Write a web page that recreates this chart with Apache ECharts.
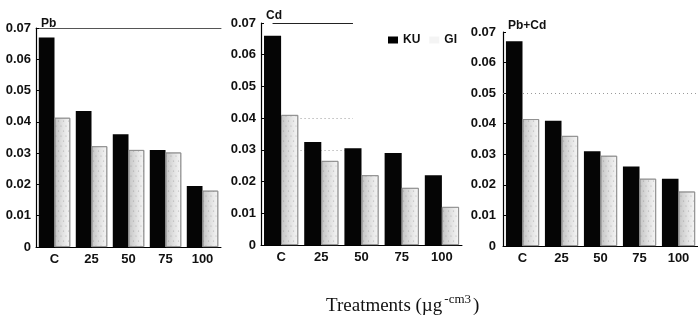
<!DOCTYPE html>
<html>
<head>
<meta charset="utf-8">
<script src="https://cdn.jsdelivr.net/npm/echarts@6/dist/echarts.min.js"></script>
<style>
  html, body { margin: 0; padding: 0; background: #fff; }
  #chart { width: 698px; height: 325px; }
</style>
</head>
<body>
<div id="chart"></div>
<script>
// data
const treatments = ['C', '25', '50', '75', '100'];
const panelTitles = ['Pb', 'Cd', 'Pb+Cd'];
const seriesNames = ['KU', 'GI'];

const pbKU = [0.067, 0.0435, 0.036, 0.031, 0.0195];
const pbGI = [0.0413, 0.0322, 0.031, 0.0302, 0.018];
const cdKU = [0.066, 0.0325, 0.0305, 0.029, 0.022];
const cdGI = [0.041, 0.0265, 0.022, 0.018, 0.012];
const pbcdKU = [0.067, 0.041, 0.031, 0.026, 0.022];
const pbcdGI = [0.0415, 0.036, 0.0295, 0.022, 0.0178];

const yMax = 0.07;
const yStep = 0.01;

const chart = echarts.init(document.getElementById('chart'), null, { renderer: 'canvas' });

// panel boxes (px)
const grids = [
  { left: 36, top: 28, width: 185, height: 219 },
  { left: 261, top: 23, width: 201, height: 222 },
  { left: 503, top: 32, width: 195, height: 214 }
];
const labelMargins = [5, 5, 7];
const titleTops = [13, 5, 15];
const panelData = [[pbKU, pbGI], [cdKU, cdGI], [pbcdKU, pbcdGI]];

const sans = 'Liberation Sans, Arial, sans-serif';
const serif = 'Liberation Serif, Times New Roman, serif';
const labelFont = { fontFamily: sans, fontSize: 13, fontWeight: 'bold', color: '#111' };

function giStyle() {
  return {
    color: new echarts.graphic.LinearGradient(0, 0, 1, 0, [
      { offset: 0, color: '#c4c4c4' },
      { offset: 0.5, color: '#e0e0e0' },
      { offset: 1, color: '#f6f6f6' }
    ]),
    borderColor: '#8c8c8c',
    borderWidth: 0.8,
    decal: {
      symbol: 'circle',
      symbolSize: 0.6,
      color: 'rgba(70,70,70,0.35)',
      dashArrayX: [[2, 3], [0, 2, 3, 0]],
      dashArrayY: [2, 3],
      rotation: 0
    }
  };
}

const xAxes = [];
const yAxes = [];
const series = [];

grids.forEach((g, i) => {
  xAxes.push({
    type: 'category', gridIndex: i, data: treatments,
    axisLine: { lineStyle: { color: '#000', width: 1 } },
    axisTick: { show: false },
    axisLabel: Object.assign({ margin: 6 }, labelFont)
  });
  yAxes.push({
    type: 'value', gridIndex: i, min: 0, max: yMax, interval: yStep,
    axisLine: { show: true, lineStyle: { color: '#000', width: 1.2 } },
    axisTick: { show: true, inside: true, length: 3, lineStyle: { color: '#000' } },
    splitLine: { show: false },
    axisLabel: Object.assign({
      margin: labelMargins[i],
      formatter: (v) => (v === 0 ? '0' : v.toFixed(2))
    }, labelFont)
  });
  const [ku, gi] = panelData[i];
  series.push({
    name: seriesNames[0], type: 'bar', xAxisIndex: i, yAxisIndex: i, data: ku,
    barGap: '0%', barCategoryGap: '15%',
    itemStyle: { color: '#050505' }, z: 3
  });
  series.push({
    name: seriesNames[1], type: 'bar', xAxisIndex: i, yAxisIndex: i, data: gi,
    barGap: '0%', barCategoryGap: '15%',
    itemStyle: giStyle(), z: 3
  });
});

// faint frame line along the top of the Pb panel
xAxes.push({
  type: 'category', gridIndex: 0, data: treatments, position: 'top',
  axisLine: { lineStyle: { color: '#555', width: 1 } },
  axisTick: { show: false }, axisLabel: { show: false }
});

// scan leftovers: partial top rule and dotted guides
const dotted = { color: '#9a9a9a', type: [1, 3], width: 1 };
series[2].markLine = {
  silent: true, symbol: 'none', z: 1, label: { show: false },
  data: [
    [{ coord: ['C', yMax], lineStyle: { color: '#222', type: 'solid', width: 1 } }, { coord: ['50', yMax] }],
    [{ coord: ['C', 0.04] }, { coord: ['50', 0.04] }],
    [{ coord: ['C', 0.03] }, { coord: ['50', 0.03] }]
  ],
  lineStyle: dotted
};
series[4].markLine = {
  silent: true, symbol: 'none', z: 1, label: { show: false },
  data: [{ yAxis: 0.05 }],
  lineStyle: dotted
};

const titles = panelTitles.map((t, i) => ({
  text: t, left: grids[i].left, top: titleTops[i],
  textStyle: { fontFamily: sans, fontSize: 12, fontWeight: 'bold', color: '#111' }
}));
titles.push({
  text: '{a|Treatments (\u00b5g}{s|-cm3}{a|)}',
  left: 321, top: 288,
  textStyle: {
    fontWeight: 'normal',
    rich: {
      a: { fontFamily: serif, fontSize: 19, fontWeight: 'normal', color: '#111', lineHeight: 26 },
      s: { fontFamily: serif, fontSize: 13, fontWeight: 'normal', color: '#111', lineHeight: 13,
           verticalAlign: 'top', padding: [0, 2, 0, 2] }
    }
  }
});

chart.setOption({
  animation: false,
  backgroundColor: '#fff',
  title: titles,
  legend: {
    left: 383, top: 29,
    icon: 'rect', itemWidth: 10, itemHeight: 7, itemGap: 9,
    textStyle: { fontFamily: sans, fontSize: 12, fontWeight: 'bold', color: '#111' },
    data: [
      { name: 'KU', itemStyle: { color: '#000', borderWidth: 0 } },
      { name: 'GI', itemStyle: { color: '#f4f4f4', borderWidth: 0, decal: 'none' } }
    ]
  },
  grid: grids,
  xAxis: xAxes,
  yAxis: yAxes,
  series: series
});

window.addEventListener('resize', () => chart.resize());
</script>
</body>
</html>
